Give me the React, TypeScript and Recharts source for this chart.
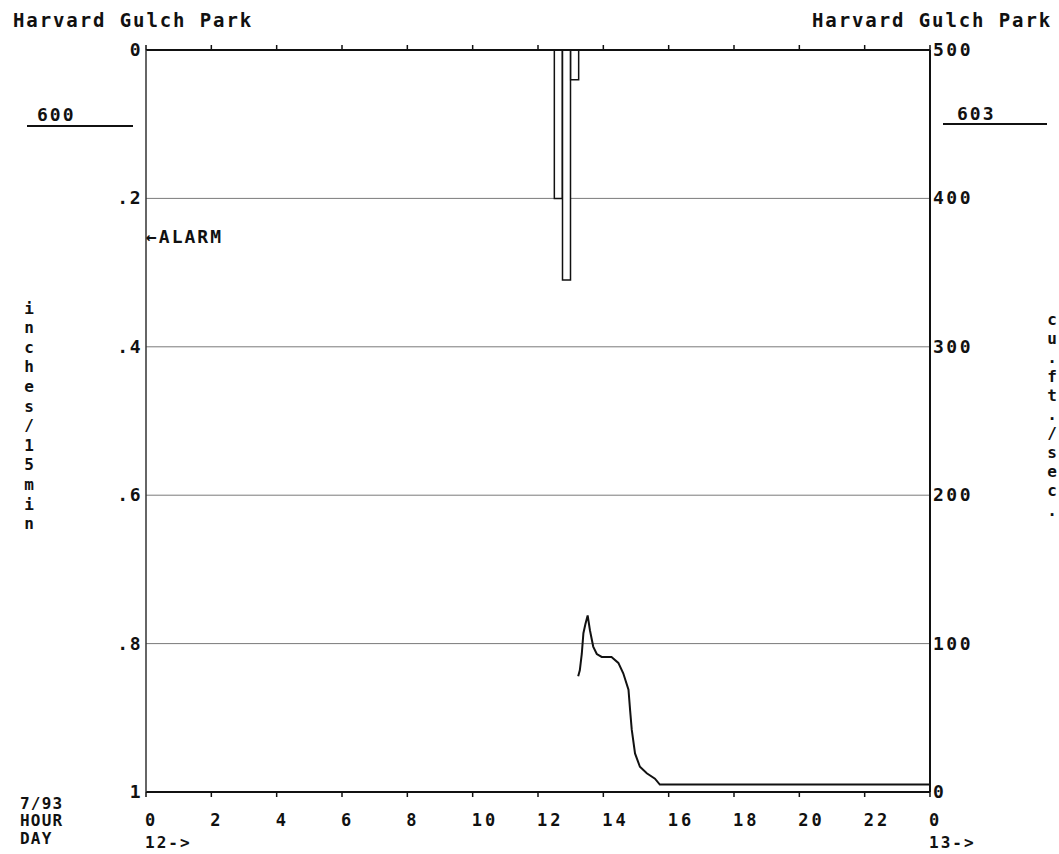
import { Bar, CartesianGrid, ComposedChart, Line, XAxis, YAxis } from 'recharts';

const FONT = '"DejaVu Sans Mono", "Liberation Mono", monospace';
const INK = '#111';

// rainfall, inches per 15 min, centred on each quarter hour
const rainHours = [12.625, 12.875, 13.125];
const rainValues = [0.2, 0.31, 0.04];

// flow, cu.ft./sec
const flowHours = [13.23, 13.28, 13.34, 13.39, 13.45, 13.52, 13.59, 13.69, 13.8, 13.95, 14.25, 14.46, 14.61, 14.77, 14.82, 14.87, 14.97, 15.12, 15.33, 15.58, 15.73, 24];
const flowValues = [78, 82, 93, 107, 113, 119, 109, 98, 93, 91, 91, 87, 80, 69, 55, 42, 26, 17, 12.6, 9, 5, 5];

const hourTicks = [0, 2, 4, 6, 8, 10, 12, 14, 16, 18, 20, 22, 24];
const dayLabels: Record<number, string> = { 0: '12->', 24: '13->' };
const rainTicks = [0, 0.2, 0.4, 0.6, 0.8, 1];
const flowTicks = [0, 100, 200, 300, 400, 500];

const rainData = rainHours.map((hour, i) => ({ hour, rain: rainValues[i] }));
const flowData = flowHours.map((hour, i) => ({ hour, flow: flowValues[i] }));

const textStyle = { fontFamily: FONT, fontWeight: 700, fill: INK } as const;

const rainLabel = (v: number) => (v === 0 ? '0' : v === 1 ? '1' : String(v).replace(/^0/, ''));

const HourTick = (props: any) => {
  const { x, y, payload } = props;
  const v = payload.value as number;
  const day = dayLabels[v];
  return (
    <g>
      <text x={x - 1} y={y + 29} fontSize={17} letterSpacing={3} {...textStyle}>
        {v === 24 ? '0' : String(v)}
      </text>
      {day && (
        <text x={x - 1} y={y + 51} fontSize={16} letterSpacing={2} {...textStyle}>
          {day}
        </text>
      )}
    </g>
  );
};

const RainTick = (props: any) => {
  const { x, y, payload } = props;
  return (
    <text x={x} y={y} dy={6} textAnchor="end" fontSize={18} letterSpacing={1.5} {...textStyle}>
      {rainLabel(payload.value)}
    </text>
  );
};

const FlowTick = (props: any) => {
  const { x, y, payload } = props;
  return (
    <text x={x} y={y} dy={6} textAnchor="start" fontSize={18} letterSpacing={2.5} {...textStyle}>
      {payload.value}
    </text>
  );
};

const Stacked = ({ x, y, step, chars }: { x: number; y: number; step: number; chars: string }) => (
  <>
    {chars.split('').map((c, i) => (
      <text key={i} x={x} y={y + i * step} textAnchor="middle" dominantBaseline="central" fontSize={16} {...textStyle}>
        {c}
      </text>
    ))}
  </>
);

export default function App() {
  return (
    <div style={{ position: 'absolute', left: 0, top: 0, width: 1059, height: 854, background: '#fff' }}>
      <ComposedChart width={1059} height={854} data={rainData} margin={{ top: 40, right: 69, bottom: 12, left: 86 }}>
        <CartesianGrid yAxisId="left" vertical={false} horizontalValues={rainTicks} stroke="#7a7a7a" strokeWidth={1} />
        <XAxis
          xAxisId="bottom"
          dataKey="hour"
          type="number"
          domain={[0, 24]}
          ticks={hourTicks}
          orientation="bottom"
          height={50}
          tickSize={5}
          tickMargin={0}
          axisLine={{ stroke: INK, strokeWidth: 2 }}
          tickLine={{ stroke: INK, strokeWidth: 1.5 }}
          tick={<HourTick />}
          interval={0}
        />
        <XAxis
          xAxisId="top"
          dataKey="hour"
          type="number"
          domain={[0, 24]}
          ticks={hourTicks}
          orientation="top"
          height={10}
          tickSize={5}
          axisLine={{ stroke: INK, strokeWidth: 2 }}
          tickLine={{ stroke: INK, strokeWidth: 1.5 }}
          tick={() => <g />}
          interval={0}
        />
        <XAxis xAxisId="flowX" dataKey="hour" type="number" domain={[0, 24]} hide />
        <YAxis
          yAxisId="left"
          orientation="left"
          type="number"
          domain={[0, 1]}
          ticks={rainTicks}
          reversed
          width={60}
          tickSize={0}
          tickMargin={4}
          tickLine={false}
          axisLine={{ stroke: '#333', strokeWidth: 1.5 }}
          tick={<RainTick />}
          interval={0}
        />
        <YAxis
          yAxisId="right"
          orientation="right"
          type="number"
          domain={[0, 500]}
          ticks={flowTicks}
          width={60}
          tickSize={0}
          tickMargin={3}
          tickLine={false}
          axisLine={{ stroke: INK, strokeWidth: 2 }}
          tick={<FlowTick />}
          interval={0}
        />
        <Bar
          xAxisId="bottom"
          yAxisId="left"
          dataKey="rain"
          barSize={8}
          fill="#fff"
          stroke={INK}
          strokeWidth={1.5}
          isAnimationActive={false}
        />
        <Line
          xAxisId="flowX"
          yAxisId="right"
          data={flowData}
          dataKey="flow"
          type="linear"
          stroke={INK}
          strokeWidth={2}
          dot={false}
          activeDot={false}
          isAnimationActive={false}
        />
      </ComposedChart>

      <svg width={1059} height={854} style={{ position: 'absolute', left: 0, top: 0, pointerEvents: 'none' }}>
        <text x={13} y={27} fontSize={19} letterSpacing={1.9} {...textStyle}>Harvard Gulch Park</text>
        <text x={812} y={27} fontSize={19} letterSpacing={1.9} {...textStyle}>Harvard Gulch Park</text>

        <text x={37} y={121} fontSize={18} letterSpacing={2} {...textStyle}>600</text>
        <line x1={27} x2={133} y1={126} y2={126} stroke={INK} strokeWidth={2} />
        <text x={957} y={120} fontSize={18} letterSpacing={2} {...textStyle}>603</text>
        <line x1={943} x2={1047} y1={124} y2={124} stroke={INK} strokeWidth={2} />

        <text x={146} y={243} fontSize={18} letterSpacing={2} {...textStyle}>←ALARM</text>

        <Stacked x={29} y={308} step={19.6} chars="inches/15min" />
        <Stacked x={1052} y={319} step={19.1} chars="cu.ft./sec." />

        <text x={20} y={809} fontSize={16} letterSpacing={1.2} {...textStyle}>7/93</text>
        <text x={20} y={826} fontSize={16} letterSpacing={1.2} {...textStyle}>HOUR</text>
        <text x={20} y={844} fontSize={16} letterSpacing={1.2} {...textStyle}>DAY</text>
      </svg>
    </div>
  );
}
